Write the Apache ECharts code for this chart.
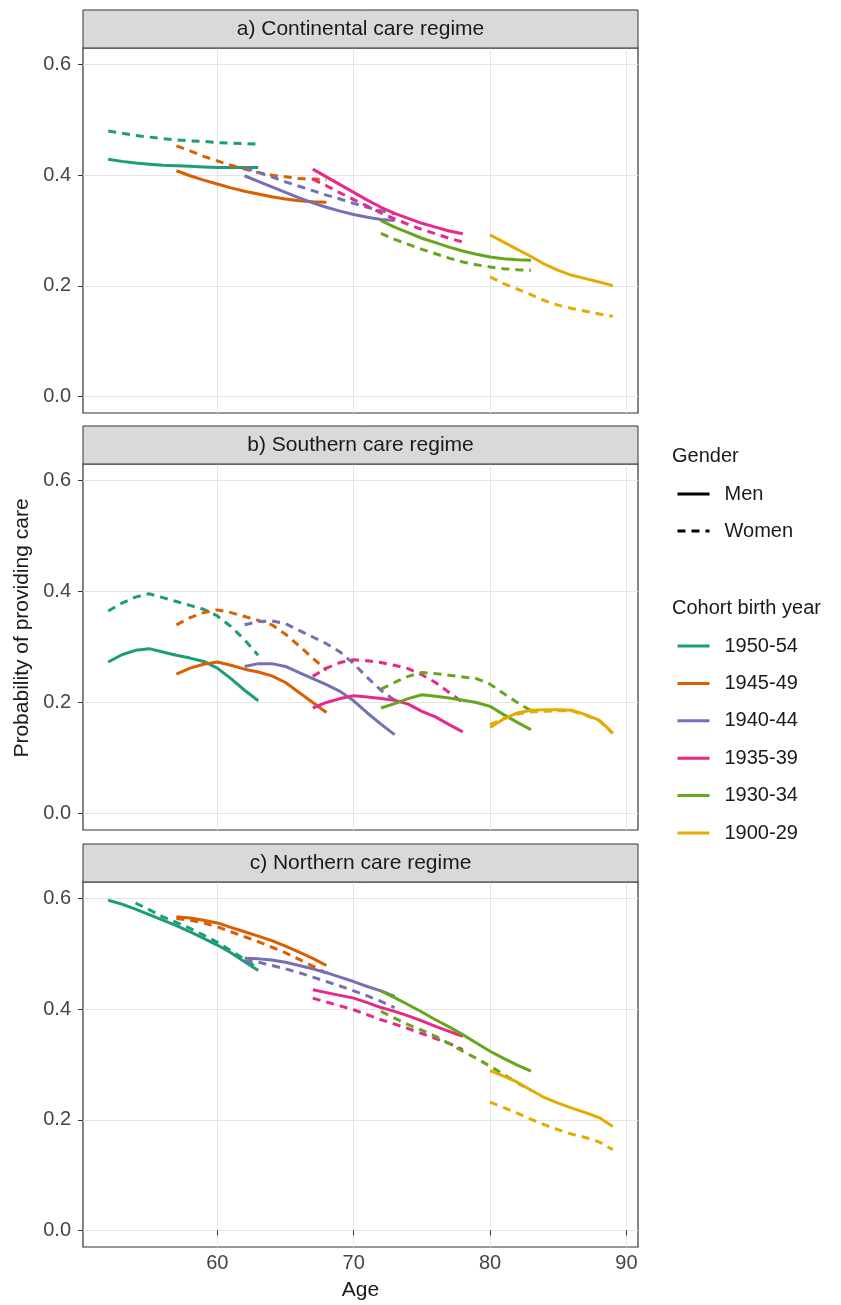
<!DOCTYPE html>
<html>
<head>
<meta charset="utf-8">
<script src="https://cdn.jsdelivr.net/npm/echarts@6/dist/echarts.min.js"></script>
<style>
html, body { margin: 0; padding: 0; background: #fff; }
#chart { width: 841px; height: 1305px; }
</style>
</head>
<body>
<div id="chart"></div>
<script>
var cohorts = ['1950-54', '1945-49', '1940-44', '1935-39', '1930-34', '1900-29'];
var colors = ['#1B9E77', '#D95F02', '#7570B3', '#E7298A', '#66A61E', '#E6AB02'];
var panels = ['a) Continental care regime', 'b) Southern care regime', 'c) Northern care regime'];
var xTicks = [60, 70, 80, 90];
var yTicks = [0, 0.2, 0.4, 0.6];

// ages observed for each cohort
var ages = [
  [52, 53, 54, 55, 56, 57, 58, 59, 60, 61, 62, 63],
  [57, 58, 59, 60, 61, 62, 63, 64, 65, 66, 67, 68],
  [62, 63, 64, 65, 66, 67, 68, 69, 70, 71, 72, 73],
  [67, 68, 69, 70, 71, 72, 73, 74, 75, 76, 77, 78],
  [72, 73, 74, 75, 76, 77, 78, 79, 80, 81, 82, 83],
  [80, 81, 82, 83, 84, 85, 86, 87, 88, 89]
];

// a) Continental
var contMen = [
  [0.429, 0.425, 0.422, 0.420, 0.418, 0.417, 0.416, 0.415, 0.414, 0.414, 0.414, 0.414],
  [0.408, 0.399, 0.391, 0.384, 0.377, 0.371, 0.366, 0.361, 0.357, 0.354, 0.352, 0.351],
  [0.399, 0.389, 0.379, 0.369, 0.359, 0.350, 0.342, 0.335, 0.329, 0.324, 0.320, 0.318],
  [0.411, 0.397, 0.383, 0.369, 0.355, 0.342, 0.331, 0.322, 0.313, 0.306, 0.299, 0.294],
  [0.318, 0.306, 0.296, 0.286, 0.278, 0.270, 0.263, 0.257, 0.252, 0.249, 0.247, 0.246],
  [0.292, 0.279, 0.266, 0.253, 0.239, 0.228, 0.219, 0.213, 0.207, 0.200]
];
var contWomen = [
  [0.480, 0.476, 0.472, 0.469, 0.466, 0.464, 0.462, 0.461, 0.459, 0.458, 0.457, 0.456],
  [0.453, 0.444, 0.434, 0.426, 0.418, 0.411, 0.405, 0.400, 0.397, 0.394, 0.393, 0.392],
  [0.414, 0.405, 0.397, 0.388, 0.380, 0.372, 0.364, 0.357, 0.349, 0.342, 0.336, 0.330],
  [0.393, 0.381, 0.368, 0.356, 0.344, 0.332, 0.321, 0.311, 0.302, 0.294, 0.286, 0.279],
  [0.295, 0.284, 0.275, 0.266, 0.258, 0.250, 0.243, 0.238, 0.234, 0.231, 0.229, 0.228],
  [0.216, 0.204, 0.194, 0.184, 0.173, 0.165, 0.159, 0.154, 0.149, 0.145]
];

// b) Southern
var southMen = [
  [0.273, 0.286, 0.294, 0.297, 0.291, 0.285, 0.280, 0.274, 0.262, 0.243, 0.222, 0.203],
  [0.251, 0.262, 0.269, 0.273, 0.267, 0.260, 0.255, 0.248, 0.236, 0.218, 0.200, 0.182],
  [0.265, 0.270, 0.270, 0.265, 0.254, 0.243, 0.232, 0.220, 0.203, 0.181, 0.161, 0.142],
  [0.190, 0.200, 0.207, 0.212, 0.210, 0.207, 0.204, 0.197, 0.184, 0.174, 0.160, 0.147],
  [0.190, 0.198, 0.207, 0.214, 0.211, 0.208, 0.204, 0.200, 0.193, 0.178, 0.164, 0.151],
  [0.155, 0.170, 0.181, 0.186, 0.187, 0.187, 0.186, 0.178, 0.168, 0.145]
];
var southWomen = [
  [0.365, 0.379, 0.390, 0.396, 0.389, 0.382, 0.375, 0.368, 0.356, 0.337, 0.313, 0.285],
  [0.340, 0.353, 0.362, 0.367, 0.362, 0.355, 0.348, 0.340, 0.323, 0.302, 0.280, 0.258],
  [0.340, 0.346, 0.347, 0.342, 0.330, 0.318, 0.306, 0.291, 0.270, 0.245, 0.222, 0.204],
  [0.247, 0.262, 0.272, 0.277, 0.275, 0.272, 0.267, 0.261, 0.250, 0.236, 0.218, 0.200],
  [0.224, 0.236, 0.247, 0.254, 0.252, 0.249, 0.246, 0.243, 0.233, 0.216, 0.200, 0.185],
  [0.160, 0.171, 0.179, 0.183, 0.184, 0.185, 0.185, 0.177, 0.167, 0.144]
];

// c) Northern
var northMen = [
  [0.597, 0.590, 0.581, 0.571, 0.561, 0.551, 0.540, 0.528, 0.516, 0.502, 0.486, 0.470],
  [0.567, 0.565, 0.561, 0.556, 0.548, 0.540, 0.532, 0.524, 0.514, 0.503, 0.492, 0.479],
  [0.492, 0.491, 0.489, 0.485, 0.479, 0.473, 0.466, 0.458, 0.450, 0.441, 0.433, 0.423],
  [0.435, 0.430, 0.425, 0.420, 0.412, 0.403, 0.396, 0.388, 0.379, 0.369, 0.360, 0.351],
  [0.433, 0.421, 0.408, 0.395, 0.381, 0.368, 0.354, 0.339, 0.324, 0.311, 0.299, 0.288],
  [0.289, 0.279, 0.268, 0.254, 0.240, 0.230, 0.221, 0.213, 0.204, 0.188]
];
var northWomen = [
  [null, null, 0.592, 0.580, 0.567, 0.557, 0.546, 0.534, 0.521, 0.506, 0.490, 0.474],
  [0.564, 0.561, 0.556, 0.549, 0.540, 0.531, 0.522, 0.512, 0.502, 0.490, 0.478, 0.465],
  [0.487, 0.485, 0.479, 0.473, 0.466, 0.458, 0.450, 0.442, 0.433, 0.424, 0.414, 0.403],
  [0.420, 0.413, 0.406, 0.399, 0.390, 0.381, 0.373, 0.365, 0.356, 0.347, 0.338, 0.327],
  [0.396, 0.384, 0.372, 0.362, 0.351, 0.338, 0.324, 0.311, 0.297, 0.282, 0.267, 0.253],
  [0.232, 0.222, 0.212, 0.201, 0.191, 0.182, 0.174, 0.168, 0.160, 0.146]
];

var menData = [contMen, southMen, northMen];
var womenData = [contWomen, southWomen, northWomen];

var FONT = '"Liberation Sans", Arial, sans-serif';
var TXT = '#1A1A1A';
var panelTop = [48, 464, 882];
var panelH = [365, 366, 365];
var stripTop = [10, 426, 844];
var stripH = 38;
var panelLeft = 83, panelW = 555;

var grids = [], xAxes = [], yAxes = [], series = [], graphics = [];

for (var p = 0; p < 3; p++) {
  grids.push({
    left: panelLeft, top: panelTop[p], width: panelW, height: panelH[p],
    show: true, borderColor: '#333', borderWidth: 1.2, backgroundColor: 'transparent'
  });
  var bottom = (p === 2);
  xAxes.push({
    gridIndex: p, type: 'value', min: 50.15, max: 90.85,
    axisLine: {show: false},
    axisTick: {show: bottom, length: 5, lineStyle: {color: '#333'}, customValues: xTicks},
    axisLabel: {show: bottom, customValues: xTicks, fontSize: 20, color: '#444', margin: 6, fontFamily: FONT},
    splitLine: {show: true, lineStyle: {color: '#E5E5E5', width: 1}},
    name: bottom ? 'Age' : '', nameLocation: 'middle', nameGap: 33,
    nameTextStyle: {fontSize: 21, color: TXT, fontFamily: FONT}
  });
  yAxes.push({
    gridIndex: p, type: 'value', min: -0.03, max: 0.63,
    axisLine: {show: false},
    axisTick: {show: true, length: 5, lineStyle: {color: '#333'}, customValues: yTicks},
    axisLabel: {customValues: yTicks, fontSize: 20, color: '#444', margin: 12, fontFamily: FONT,
      formatter: function (v) { return v.toFixed(1); }},
    splitLine: {show: true, lineStyle: {color: '#E5E5E5', width: 1}}
  });
  graphics.push({
    type: 'rect', shape: {x: panelLeft, y: stripTop[p], width: panelW, height: stripH},
    style: {fill: '#D9D9D9', stroke: '#333', lineWidth: 1}, z: 10
  });
  graphics.push({
    type: 'text', x: panelLeft + panelW / 2, y: stripTop[p] + stripH / 2,
    style: {text: panels[p], fill: TXT, font: '21px ' + FONT, align: 'center', verticalAlign: 'middle'}, z: 11
  });

  for (var c = 0; c < cohorts.length; c++) {
    [['Men', menData[p][c], 'solid'], ['Women', womenData[p][c], [8, 6]]].forEach(function (g) {
      var pts = [];
      ages[c].forEach(function (a, i) {
        if (g[1][i] != null) pts.push([a, g[1][i]]);
      });
      series.push({
        name: cohorts[c], type: 'line', xAxisIndex: p, yAxisIndex: p,
        data: pts, symbol: 'none', smooth: false, silent: true,
        itemStyle: {color: colors[c]},
        lineStyle: {color: colors[c], width: 3, type: g[2], cap: 'butt'}
      });
    });
  }
}

// gender key series (no data, legend only)
series.push({name: 'Men', type: 'line', xAxisIndex: 0, yAxisIndex: 0, data: [], symbol: 'none',
  itemStyle: {color: '#000'}, lineStyle: {color: '#000', width: 3, type: 'solid'}});
series.push({name: 'Women', type: 'line', xAxisIndex: 0, yAxisIndex: 0, data: [], symbol: 'none',
  itemStyle: {color: '#000'}, lineStyle: {color: '#000', width: 3, type: [8, 6]}});

graphics.push({
  type: 'text', x: 22, y: 628, rotation: Math.PI / 2,
  style: {text: 'Probability of providing care', fill: TXT, font: '21px ' + FONT, align: 'center', verticalAlign: 'middle'}
});

var legendText = {fontSize: 20, color: TXT, fontFamily: FONT, padding: [0, 0, 0, 10]};

var myChart = echarts.init(document.getElementById('chart'));
myChart.setOption({
  backgroundColor: '#fff',
  animation: false,
  title: [
    {text: 'Gender', left: 672, top: 446, padding: 0,
      textStyle: {fontSize: 20, fontWeight: 'normal', color: TXT, fontFamily: FONT}},
    {text: 'Cohort birth year', left: 672, top: 598, padding: 0,
      textStyle: {fontSize: 20, fontWeight: 'normal', color: TXT, fontFamily: FONT}}
  ],
  legend: [
    {data: ['Men', 'Women'], orient: 'vertical', left: 676, top: 484, padding: 0,
      itemWidth: 32, itemHeight: 20, itemGap: 17, selectedMode: false,
      itemStyle: {opacity: 0}, lineStyle: {width: 3}, textStyle: legendText},
    {data: cohorts, orient: 'vertical', left: 676, top: 636, padding: 0,
      itemWidth: 32, itemHeight: 20, itemGap: 17.4, selectedMode: false,
      itemStyle: {opacity: 0}, lineStyle: {width: 3}, textStyle: legendText}
  ],
  grid: grids,
  xAxis: xAxes,
  yAxis: yAxes,
  series: series,
  graphic: graphics
});
</script>
</body>
</html>
